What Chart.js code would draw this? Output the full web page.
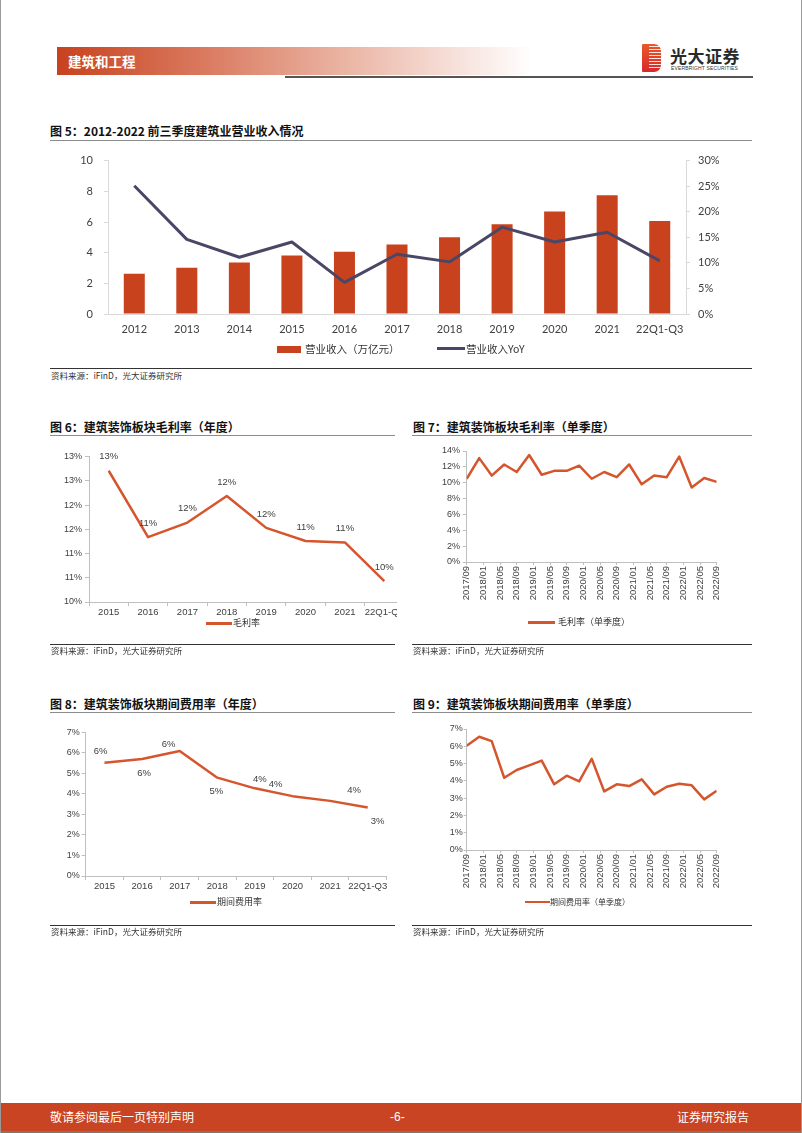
<!DOCTYPE html>
<html><head><meta charset="utf-8">
<script src="https://cdn.jsdelivr.net/npm/chart.js@4.4.1/dist/chart.umd.min.js"></script>
<style>
html,body{margin:0;padding:0;background:#fff;}
#page{position:relative;width:802px;height:1133px;overflow:hidden;font-family:"Noto Sans CJK SC",sans-serif;color:#222;}
.title{position:absolute;font-weight:700;font-size:12px;line-height:14px;color:#111;white-space:nowrap;}
.rule{position:absolute;height:0;border-top:1.5px solid #8c8c8c;}
.srcline{position:absolute;height:0;border-top:1px solid #333;}
.src{position:absolute;font-size:8.5px;line-height:10px;color:#333;white-space:nowrap;}
.leg{position:absolute;font-size:9px;line-height:12px;color:#333;white-space:nowrap;}
.sw{position:absolute;}
canvas{position:absolute;}
.clip{position:absolute;overflow:hidden;}
</style></head><body><div id="page">

<!-- page borders -->
<div style="position:absolute;left:0;top:0;width:1px;height:1133px;background:#9a9a9a"></div>
<div style="position:absolute;left:801px;top:0;width:1px;height:1133px;background:#9a9a9a"></div>

<!-- header -->
<div style="position:absolute;left:57px;top:47px;width:475px;height:28px;background:linear-gradient(to right,#C8421E 0%,#D9785D 30%,#EBB7A7 62%,#ffffff 100%);"></div>
<div style="position:absolute;left:68px;top:52px;color:#fff;font-weight:700;font-size:13.5px;line-height:18px;">建筑和工程</div>
<div style="position:absolute;left:285px;top:76px;width:468px;height:2px;background:#555;"></div>
<div style="position:absolute;left:642px;top:44px;width:19px;height:28px;border-radius:1px 7px 7px 1px;background:linear-gradient(to bottom,#E85A2A,#D8282C);"></div>
<div style="position:absolute;left:649px;top:46px;width:12px;height:24px;background:repeating-linear-gradient(to bottom,rgba(255,255,255,0.85) 0px,rgba(255,255,255,0.85) 1px,transparent 1px,transparent 3px);"></div>
<div style="position:absolute;left:670px;top:46px;font-weight:700;font-size:17px;line-height:20px;color:#2a2a2a;letter-spacing:0.5px;">光大证券</div>
<div style="position:absolute;left:671px;top:65px;font-family:'Liberation Sans';font-size:5px;line-height:6px;color:#333;letter-spacing:0.15px;">EVERBRIGHT SECURITIES</div>

<!-- Figure 5 -->
<div class="title" style="left:50px;top:123.5px;">图 5：2012-2022 前三季度建筑业营业收入情况</div>
<div class="rule" style="left:50px;top:139.5px;width:702px;"></div>
<canvas id="c5" width="700" height="194" style="left:50px;top:150px;"></canvas>
<div class="sw" style="left:277px;top:345.5px;width:24px;height:7px;background:#C8421E;"></div>
<div class="leg" style="left:305px;top:342px;font-size:10.5px;line-height:14px;">营业收入（万亿元）</div>
<div class="sw" style="left:437px;top:347px;width:28px;height:3px;background:#4A4766;"></div>
<div class="leg" style="left:466px;top:342px;font-size:10.5px;line-height:14px;">营业收入YoY</div>
<div class="srcline" style="left:50px;top:368px;width:702px;"></div>
<div class="src" style="left:51px;top:369.5px;">资料来源：iFinD，光大证券研究所</div>

<!-- Figure 6 -->
<div class="title" style="left:50px;top:419.5px;">图 6：建筑装饰板块毛利率（年度）</div>
<div class="rule" style="left:50px;top:434.5px;width:345px;"></div>
<div class="clip" style="left:50px;top:440px;width:347px;height:190px;"><canvas id="c6" width="360" height="187" style="left:0;top:0;"></canvas></div>
<div class="sw" style="left:206px;top:622px;width:26px;height:2.5px;background:#D5562D;"></div>
<div class="leg" style="left:233px;top:617px;">毛利率</div>
<div class="srcline" style="left:50px;top:644px;width:345px;"></div>
<div class="src" style="left:51px;top:645px;">资料来源：iFinD，光大证券研究所</div>

<!-- Figure 7 -->
<div class="title" style="left:413px;top:419.5px;">图 7：建筑装饰板块毛利率（单季度）</div>
<div class="rule" style="left:412px;top:434.5px;width:340px;"></div>
<canvas id="c7" width="320" height="167" style="left:413px;top:440px;"></canvas>
<div class="sw" style="left:528px;top:621px;width:27px;height:2.5px;background:#D5562D;"></div>
<div class="leg" style="left:558px;top:616px;">毛利率（单季度）</div>
<div class="srcline" style="left:412px;top:643.5px;width:340px;"></div>
<div class="src" style="left:413px;top:645px;">资料来源：iFinD，光大证券研究所</div>

<!-- Figure 8 -->
<div class="title" style="left:50px;top:696.5px;">图 8：建筑装饰板块期间费用率（年度）</div>
<div class="rule" style="left:50px;top:711.5px;width:345px;"></div>
<canvas id="c8" width="345" height="180" style="left:50px;top:718px;"></canvas>
<div class="sw" style="left:190px;top:901px;width:26px;height:2.5px;background:#D5562D;"></div>
<div class="leg" style="left:217px;top:896px;">期间费用率</div>
<div class="srcline" style="left:50px;top:925px;width:345px;"></div>
<div class="src" style="left:51px;top:926px;">资料来源：iFinD，光大证券研究所</div>

<!-- Figure 9 -->
<div class="title" style="left:413px;top:696.5px;">图 9：建筑装饰板块期间费用率（单季度）</div>
<div class="rule" style="left:412px;top:711.5px;width:340px;"></div>
<canvas id="c9" width="320" height="180" style="left:413px;top:715px;"></canvas>
<div class="sw" style="left:525px;top:900.5px;width:25px;height:2.5px;background:#D5562D;"></div>
<div class="leg" style="left:550px;top:896px;font-size:8px;">期间费用率（单季度）</div>
<div class="srcline" style="left:412px;top:925px;width:340px;"></div>
<div class="src" style="left:413px;top:926px;">资料来源：iFinD，光大证券研究所</div>

<!-- footer -->
<div style="position:absolute;left:1px;top:1103px;width:800px;height:28px;background:#C94422;"></div>
<div style="position:absolute;left:1px;top:1131px;width:800px;height:2px;background:#8a7565;"></div>
<div style="position:absolute;left:50px;top:1109px;color:#fff;font-size:12px;line-height:16px;">敬请参阅最后一页特别声明</div>
<div style="position:absolute;left:390px;top:1109px;color:#fff;font-size:12px;line-height:16px;font-family:'Liberation Sans';">-6-</div>
<div style="position:absolute;left:677px;top:1109px;color:#fff;font-size:12px;line-height:16px;">证券研究报告</div>

</div>
<script>
// ---------- DATA ----------
const years5 = ['2012','2013','2014','2015','2016','2017','2018','2019','2020','2021','22Q1-Q3'];
const revenue5 = [2.62, 3.01, 3.36, 3.81, 4.06, 4.53, 5.01, 5.86, 6.68, 7.75, 6.07];
const revenueYoY5 = [25.1, 14.6, 11.1, 14.1, 6.2, 11.7, 10.2, 17.0, 14.1, 16.0, 10.4];

const years68 = ['2015','2016','2017','2018','2019','2020','2021','22Q1-Q3'];
const grossMarginYear = [12.71, 11.34, 11.64, 12.19, 11.53, 11.26, 11.23, 10.43];
const expenseRateYear = [5.52, 5.70, 6.09, 4.79, 4.27, 3.89, 3.66, 3.34];

const quarters = ['2017/09','2017/12','2018/03','2018/06','2018/09','2018/12','2019/03','2019/06','2019/09','2019/12',
  '2020/03','2020/06','2020/09','2020/12','2021/03','2021/06','2021/09','2021/12','2022/03','2022/06','2022/09'];
const grossMarginQ = [10.5, 13.1, 10.9, 12.3, 11.35, 13.5, 11.0, 11.5, 11.5, 12.15, 10.5, 11.35, 10.7, 12.3, 9.8, 10.9, 10.7, 13.3, 9.4, 10.6, 10.1];
const expenseRateQ = [6.03, 6.55, 6.3, 4.18, 4.63, 4.9, 5.17, 3.8, 4.3, 3.97, 5.28, 3.39, 3.8, 3.7, 4.09, 3.22, 3.66, 3.83, 3.74, 2.93, 3.43];

const pctTicks6 = {min:10, max:13, step:0.5};
const pctTicks7 = {min:0, max:14, step:2};
const pctTicks8 = {min:0, max:7, step:1};

// ---------- helpers ----------
const startMonth = quarters[0];
function monthIndex(s){ const [y,m]=s.split('/').map(Number); const [y0,m0]=startMonth.split('/').map(Number); return (y-y0)*12+(m-m0); }
function monthLabel(i){ const [y0,m0]=startMonth.split('/').map(Number); const t=y0*12+(m0-1)+i; const y=Math.floor(t/12); const m=t%12+1; return y+'/'+String(m).padStart(2,'0'); }
function fixY(w){ return s=>{ s.width=w; s.paddingTop=0; s.paddingBottom=0; }; }
function fixX(h){ return s=>{ s.height=h; s.paddingLeft=0; s.paddingRight=0; }; }

const LINE = '#D5562D';
const AX = '#BFBFBF';
const TXT = '#404040';
const ARIAL = "'Liberation Sans', Arial, sans-serif";

const labelPlugin = {
  id:'ptLabels',
  afterDatasetsDraw(chart, args, opts){
    if(!opts || !opts.show) return;
    const ctx=chart.ctx, meta=chart.getDatasetMeta(0), vals=chart.data.datasets[0].data;
    ctx.save(); ctx.font=opts.font; ctx.fillStyle=opts.color; ctx.textAlign='center'; ctx.textBaseline='middle';
    meta.data.forEach((pt,i)=>{
      const off = opts.offsets[i] || opts.offsets[0];
      const v = typeof vals[i]==='object' ? vals[i].y : vals[i];
      ctx.fillText(Math.round(v)+'%', pt.x+off[0], pt.y+off[1]);
    });
    ctx.restore();
  }
};

Chart.defaults.animation = false;
Chart.defaults.responsive = false;
Chart.defaults.devicePixelRatio = 1;
Chart.defaults.plugins.legend.display = false;
Chart.defaults.plugins.tooltip.enabled = false;

// ---------- Figure 5 ----------
new Chart(document.getElementById('c5'), {
  data:{
    labels: years5,
    datasets:[
      {type:'line', label:'营业收入YoY', data: revenueYoY5, yAxisID:'y2', borderColor:'#4A4766', borderWidth:3, pointRadius:0, tension:0, order:0, borderJoinStyle:'round'},
      {type:'bar', label:'营业收入（万亿元）', data: revenue5, yAxisID:'y', backgroundColor:'#C8421E', barPercentage:0.4, categoryPercentage:1, order:1}
    ]
  },
  options:{
    layout:{padding:{left:0, right:0, top:10.7, bottom:0}},
    scales:{
      x:{offset:true, grid:{display:true, drawOnChartArea:false, drawTicks:false}, border:{color:'#D9D9D9'},
         ticks:{color:TXT, font:{family:'Lato', size:11}, padding:9, maxRotation:0, autoSkip:false}, afterFit:fixX(30)},
      y:{position:'left', min:0, max:10, ticks:{stepSize:2, color:TXT, font:{family:'Lato', size:11}, padding:11},
         grid:{drawOnChartArea:false, tickLength:4, color:'#D9D9D9'}, border:{color:'#D9D9D9'}, afterFit:fixY(58)},
      y2:{position:'right', min:0, max:30, ticks:{stepSize:5, color:TXT, font:{family:'Lato', size:11}, padding:8, callback:v=>v+'%'},
         grid:{drawOnChartArea:false, tickLength:4, color:'#D9D9D9'}, border:{color:'#D9D9D9'}, afterFit:fixY(64)}
    }
  }
});

// ---------- Figure 6 ----------
new Chart(document.getElementById('c6'), {
  type:'line',
  data:{ labels: years68, datasets:[{label:'毛利率', data: grossMarginYear, borderColor:LINE, borderWidth:2.5, pointRadius:0, tension:0, borderJoinStyle:'round'}]},
  options:{
    layout:{padding:{left:0, right:6, top:16.7, bottom:0}},
    plugins:{ptLabels:{show:true, font:"9.5px "+ARIAL, color:TXT, offsets:[[0,-14]]}},
    scales:{
      x:{offset:true, grid:{offset:true, drawOnChartArea:false, tickLength:4, color:AX}, border:{color:AX},
         ticks:{color:TXT, font:{family:'Liberation Sans', size:9.5}, padding:1, maxRotation:0, autoSkip:false}, afterFit:fixX(25)},
      y:{min:pctTicks6.min, max:pctTicks6.max, ticks:{stepSize:pctTicks6.step, color:TXT, font:{family:'Liberation Sans', size:9}, padding:3, callback:v=>Math.round(v)+'%'},
         grid:{drawOnChartArea:false, tickLength:4, color:AX}, border:{color:AX}, afterFit:fixY(39)}
    }
  },
  plugins:[labelPlugin]
});

// ---------- Figure 7 ----------
new Chart(document.getElementById('c7'), {
  type:'line',
  data:{ datasets:[{label:'毛利率（单季度）', data: quarters.map((q,i)=>({x:monthIndex(q), y:grossMarginQ[i]})), borderColor:LINE, borderWidth:2.5, pointRadius:0, tension:0, borderJoinStyle:'round'}]},
  options:{
    layout:{padding:{left:0, right:16.3, top:11, bottom:0}},
    scales:{
      x:{type:'linear', min:0, max:60, grid:{drawOnChartArea:false, tickLength:3, color:AX}, border:{color:AX},
         ticks:{stepSize:4, color:TXT, font:{family:'Liberation Sans', size:9.5}, padding:1, minRotation:90, maxRotation:90, autoSkip:false, callback:v=>monthLabel(v)}, afterFit:fixX(45)},
      y:{min:pctTicks7.min, max:pctTicks7.max, ticks:{stepSize:pctTicks7.step, color:TXT, font:{family:'Liberation Sans', size:9}, padding:2.7, callback:v=>v+'%'},
         grid:{drawOnChartArea:false, tickLength:4, color:AX}, border:{color:AX}, afterFit:fixY(53.7)}
    }
  }
});

// ---------- Figure 8 ----------
new Chart(document.getElementById('c8'), {
  type:'line',
  data:{ labels: years68, datasets:[{label:'期间费用率', data: expenseRateYear, borderColor:LINE, borderWidth:2.5, pointRadius:0, tension:0, borderJoinStyle:'round'}]},
  options:{
    layout:{padding:{left:0, right:8.5, top:14.3, bottom:0}},
    plugins:{ptLabels:{show:true, font:"9.5px "+ARIAL, color:TXT, offsets:[[-4,-11],[2,14],[-11,-7],[-1,14],[5,-9],[-17,-12],[24,-10],[10,14]]}},
    scales:{
      x:{offset:true, grid:{offset:true, drawOnChartArea:false, tickLength:4, color:AX}, border:{color:AX},
         ticks:{color:TXT, font:{family:'Liberation Sans', size:9.5}, padding:1, maxRotation:0, autoSkip:false}, afterFit:fixX(22)},
      y:{min:pctTicks8.min, max:pctTicks8.max, ticks:{stepSize:pctTicks8.step, color:TXT, font:{family:'Liberation Sans', size:9}, padding:2, callback:v=>v+'%'},
         grid:{drawOnChartArea:false, tickLength:4, color:AX}, border:{color:AX}, afterFit:fixY(35.7)}
    }
  },
  plugins:[labelPlugin]
});

// ---------- Figure 9 ----------
new Chart(document.getElementById('c9'), {
  type:'line',
  data:{ datasets:[{label:'期间费用率（单季度）', data: quarters.map((q,i)=>({x:monthIndex(q), y:expenseRateQ[i]})), borderColor:LINE, borderWidth:2.5, pointRadius:0, tension:0, borderJoinStyle:'round'}]},
  options:{
    layout:{padding:{left:0, right:16.3, top:14, bottom:0}},
    scales:{
      x:{type:'linear', min:0, max:60, grid:{drawOnChartArea:false, tickLength:3, color:AX}, border:{color:AX},
         ticks:{stepSize:4, color:TXT, font:{family:'Liberation Sans', size:9.5}, padding:1, minRotation:90, maxRotation:90, autoSkip:false, callback:v=>monthLabel(v)}, afterFit:fixX(45)},
      y:{min:pctTicks8.min, max:pctTicks8.max, ticks:{stepSize:pctTicks8.step, color:TXT, font:{family:'Liberation Sans', size:9}, padding:1, callback:v=>v+'%'},
         grid:{drawOnChartArea:false, tickLength:3, color:AX}, border:{color:AX}, afterFit:fixY(53.7)}
    }
  }
});
</script>
</body></html>
